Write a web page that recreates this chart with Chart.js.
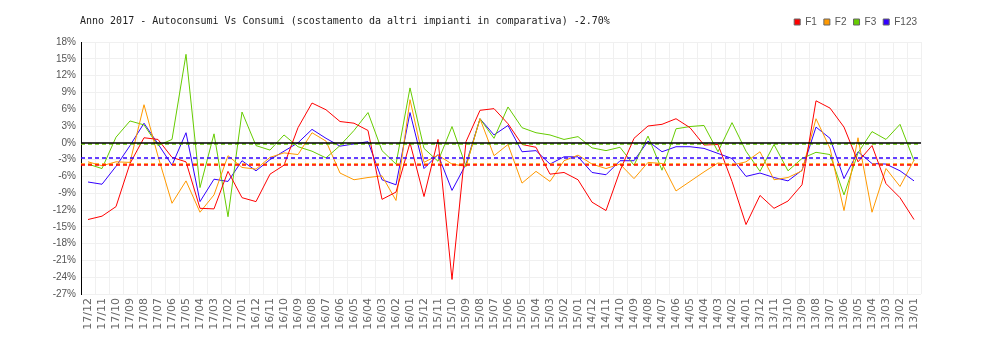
<!DOCTYPE html>
<html>
<head>
<meta charset="utf-8">
<script src="https://cdn.jsdelivr.net/npm/chart.js@4.4.1/dist/chart.umd.min.js"></script>
<style>
  html, body { margin: 0; padding: 0; background: #fff; }
  #wrap { position: relative; width: 1000px; height: 340px; }
  #title {
    position: absolute; left: 80px; top: 15px;
    font: 10px 'DejaVu Sans Mono', monospace; color: #222; white-space: pre;
  }
</style>
</head>
<body>
<div id="wrap">
  <canvas id="chart" width="1000" height="340"></canvas>
  <div id="title">Anno 2017 - Autoconsumi Vs Consumi (scostamento da altri impianti in comparativa) -2.70%</div>
</div>
<script>
// months, newest first
const MONTHS = [
  '17/12','17/11','17/10','17/09','17/08','17/07','17/06','17/05','17/04','17/03','17/02','17/01',
  '16/12','16/11','16/10','16/09','16/08','16/07','16/06','16/05','16/04','16/03','16/02','16/01',
  '15/12','15/11','15/10','15/09','15/08','15/07','15/06','15/05','15/04','15/03','15/02','15/01',
  '14/12','14/11','14/10','14/09','14/08','14/07','14/06','14/05','14/04','14/03','14/02','14/01',
  '13/12','13/11','13/10','13/09','13/08','13/07','13/06','13/05','13/04','13/03','13/02','13/01'
];

const SERIES_NAMES = ['F1', 'F2', 'F3', 'F123'];
const SERIES_COLORS = ['#ff0000', '#ff9900', '#66cc00', '#3300ff'];

// % deviation per band
const F1 = [
  -13.7, -13.1, -11.4, -3.7, 0.9, 0.6, -2.6, -3.4, -11.7, -11.8,
  -5.1, -9.8, -10.5, -5.6, -4.0, 2.7, 7.1, 5.9, 3.8, 3.5,
  2.2, -10.1, -8.8, 0.0, -9.6, 0.6, -24.4, 0.2, 5.8, 6.1,
  3.4, -0.3, -0.8, -5.6, -5.3, -6.6, -10.6, -12.1, -5.0, 0.8,
  3.0, 3.3, 4.3, 2.7, -0.4, -0.3, -6.9, -14.6, -9.4, -11.7,
  -10.4, -7.5, 7.5, 6.2, 2.8, -3.4, -0.5, -7.3, -9.8, -13.7
];
const F2 = [
  -3.4, -4.1, -3.4, -3.5, 6.8, -2.4, -10.8, -6.8, -12.4, -9.3,
  -2.3, -4.4, -4.7, -2.6, -1.8, -2.1, 1.8, 0.3, -5.4, -6.6,
  -6.2, -5.9, -10.3, 7.7, -3.5, -2.2, -3.8, -4.2, 4.3, -2.3,
  -0.3, -7.2, -5.1, -6.9, -3.2, -2.2, -3.8, -4.6, -3.8, -6.4,
  -3.5, -3.7, -8.6, -6.9, -5.2, -3.6, -4.0, -3.4, -1.6, -6.6,
  -6.2, -5.0, 4.3, -1.0, -12.1, 0.9, -12.4, -4.6, -7.8, -3.1
];
const F3 = [
  -3.8, -4.6, 1.0, 3.9, 3.2, -0.5, 0.6, 15.8, -8.0, 1.6,
  -13.2, 5.5, -0.5, -1.3, 1.4, -0.7, -1.5, -2.7, -0.5, 2.2,
  5.4, -1.4, -3.8, 9.8, -1.0, -3.3, 2.9, -4.2, 4.3, 0.8,
  6.4, 2.7, 1.8, 1.4, 0.6, 1.1, -0.9, -1.4, -0.8, -4.0,
  1.2, -4.9, 2.5, 2.9, 3.1, -1.6, 3.6, -1.5, -5.1, -0.3,
  -5.0, -2.8, -1.7, -2.1, -9.3, -1.8, 2.0, 0.6, 3.3, -3.2
];
const F123 = [
  -7.0, -7.4, -4.2, -0.5, 3.5, -0.2, -4.0, 1.8, -10.5, -6.5,
  -6.9, -3.2, -5.0, -3.0, -1.5, 0.0, 2.4, 0.8, -0.6, -0.2,
  0.2, -6.6, -7.5, 5.4, -4.6, -2.1, -8.5, -3.8, 4.3, 1.4,
  3.1, -1.6, -1.4, -3.8, -2.5, -2.5, -5.3, -5.7, -3.2, -3.2,
  0.3, -1.6, -0.7, -0.7, -1.0, -1.9, -2.8, -6.0, -5.4, -6.2,
  -6.8, -4.9, 2.8, 0.8, -6.4, -1.6, -3.7, -3.8, -5.0, -6.8
];

// average of each band, drawn as dashed reference lines
const AVERAGES = [-3.9, -3.8, -0.2, -2.7];

const Y_MIN = -27, Y_MAX = 18, Y_STEP = 3;

const X_FONT = { family: "'DejaVu Sans', sans-serif", size: 11 };
const Y_FONT = { family: "'Liberation Sans', Arial, sans-serif", size: 10 };
const LEGEND_FONT = { family: "'Liberation Sans', Arial, sans-serif", size: 10 };

// zero line + dashed averages
const refLines = {
  id: 'refLines',
  afterDatasetsDraw(chart) {
    const { ctx, chartArea: a, scales: { y } } = chart;
    ctx.save();
    ctx.lineWidth = 1.5;
    ctx.setLineDash([4, 3]);
    for (let k = AVERAGES.length - 1; k >= 0; k--) {
      const py = Math.round(y.getPixelForValue(AVERAGES[k]));
      ctx.strokeStyle = SERIES_COLORS[k];
      ctx.beginPath();
      ctx.moveTo(a.left, py);
      ctx.lineTo(a.right - 3, py);
      ctx.stroke();
    }
    ctx.setLineDash([]);
    ctx.strokeStyle = '#000';
    const zy = Math.round(y.getPixelForValue(0));
    ctx.beginPath();
    ctx.moveTo(a.left, zy);
    ctx.lineTo(a.right, zy);
    ctx.stroke();
    ctx.restore();
  }
};

// a bit more room under the legend, and nudge it to the right edge of the plot
const legendTweak = {
  id: 'legendTweak',
  beforeInit(chart) {
    const lg = chart.legend;
    const fit = lg.fit;
    lg.fit = function () { fit.call(this); this.height += 5; };
    const draw = lg.draw;
    lg.draw = function () {
      this.ctx.save();
      this.ctx.translate(3, 0);
      draw.call(this);
      this.ctx.restore();
    };
  }
};

const values = [F1, F2, F3, F123];

new Chart(document.getElementById('chart'), {
  type: 'line',
  data: {
    labels: MONTHS,
    datasets: SERIES_NAMES.map((name, i) => ({
      label: name,
      data: values[i],
      borderColor: SERIES_COLORS[i],
      backgroundColor: SERIES_COLORS[i],
      borderWidth: 1,
      pointRadius: 0,
      tension: 0,
      fill: false
    }))
  },
  options: {
    responsive: false,
    animation: false,
    devicePixelRatio: 1,
    layout: { padding: { left: 0, right: 79, top: 10, bottom: 0 } },
    plugins: {
      tooltip: { enabled: false },
      legend: {
        position: 'top',
        align: 'end',
        labels: {
          boxWidth: 6,
          boxHeight: 6,
          padding: 7,
          color: '#555',
          font: LEGEND_FONT,
          generateLabels: chart => chart.data.datasets.map((ds, i) => ({
            text: ds.label,
            fillStyle: ds.borderColor,
            strokeStyle: '#666',
            lineWidth: 1,
            fontColor: '#555',
            datasetIndex: i
          }))
        }
      }
    },
    scales: {
      x: {
        offset: true,
        grid: { offset: true, color: '#f0f0f0', drawTicks: false },
        border: { display: false },
        ticks: { autoSkip: false, minRotation: 90, maxRotation: 90, padding: 4, color: '#666', font: X_FONT },
        afterFit: s => { s.height = 46; }
      },
      y: {
        min: Y_MIN,
        max: Y_MAX,
        grid: { color: '#f0f0f0', drawTicks: false },
        border: { color: '#000', width: 1 },
        ticks: { stepSize: Y_STEP, padding: 5, color: '#555', font: Y_FONT, callback: v => v + '%' },
        afterFit: s => { s.width = 81; }
      }
    }
  },
  plugins: [refLines, legendTweak]
});
</script>
</body>
</html>
